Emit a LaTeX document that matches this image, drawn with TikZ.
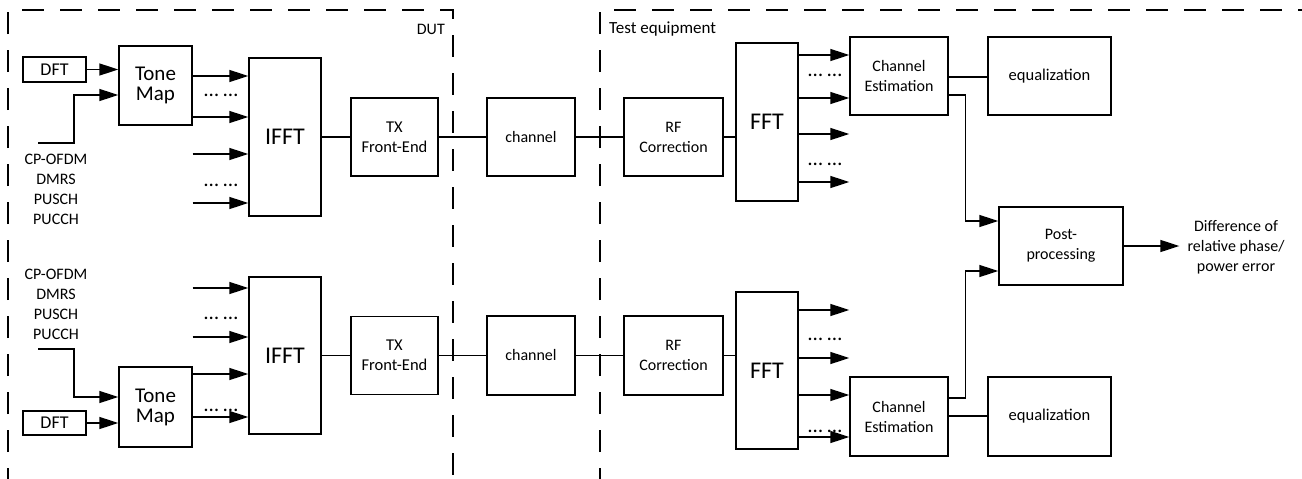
\documentclass[tikz,border=0pt]{standalone}
\usepackage{fontspec}
\setmainfont{Carlito}
\usetikzlibrary{arrows.meta,calc}
\newcommand{\fsz}[1]{\fontsize{#1}{20}\selectfont}
\begin{document}
\begin{tikzpicture}[x=1pt,y=-1pt,
  blk/.style={draw, line width=1.4pt, inner sep=0pt, align=center, font=\fsz{16}},
  arr/.style={line width=1.4pt, -{Triangle[length=19pt,width=12pt]}},
  ln/.style={line width=1.4pt},
  dbox/.style={line width=1.4pt, dash pattern=on 22pt off 16pt},
  txt/.style={inner sep=0pt, align=center, font=\fsz{16}},
  dts/.style={inner sep=0pt, font=\fsz{21}}]
\useasboundingbox (0,0) rectangle (1302,479);
\clip (0,0) rectangle (1302,479);
% dashed regions
\draw[dbox] (8,490) -- (8,10) -- (453,10) -- (453,490);
\draw[dbox] (600,490) -- (600,10) -- (1310,10);
\node[txt, font=\fsz{16}, anchor=east] (dut) at (445,29) {DUT};
\node[txt, font=\fsz{17}, anchor=west] (te) at (609,29) {Test equipment};
% upper chain
\node[blk, minimum width=63pt, minimum height=25pt, font=\fsz{18}] (dft1) at (54.5,69.5) {DFT};
\node[blk, minimum width=73pt, minimum height=79pt, font=\fsz{21}] (tone1) at (155.5,85.5) {Tone\\Map};
\node[blk, minimum width=72pt, minimum height=158pt, font=\fsz{24}] (ifft1) at (285,137) {IFFT};
\node[blk, minimum width=87pt, minimum height=78pt, font=\fsz{16.5}] (tx1) at (394.5,137) {TX\\Front-End};
\node[blk, minimum width=88pt, minimum height=78pt] (ch1) at (531,137) {channel};
\node[blk, minimum width=99pt, minimum height=78pt, font=\fsz{16}] (rf1) at (673.5,137) {RF\\Correction};
\node[blk, minimum width=62pt, minimum height=158pt, font=\fsz{24}] (fft1) at (767,122) {FFT};
\node[blk, minimum width=98pt, minimum height=78pt] (ce1) at (899,76) {Channel\\Estimation};
\node[blk, minimum width=123pt, minimum height=78pt, font=\fsz{16.5}] (eq1) at (1049.5,76) {equalization};
\node[blk, minimum width=124pt, minimum height=78pt] (post) at (1061,246) {Post-\\processing};
\node[txt] (diff) at (1236,247) {Difference of\\relative phase/\\power error};
% lower chain
\node[blk, minimum width=63pt, minimum height=24pt, font=\fsz{18}] (dft2) at (54.5,423) {DFT};
\node[blk, minimum width=73pt, minimum height=80pt, font=\fsz{21}] (tone2) at (155.5,407) {Tone\\Map};
\node[blk, minimum width=72pt, minimum height=157pt, font=\fsz{24}] (ifft2) at (285,355.5) {IFFT};
\node[blk, minimum width=87pt, minimum height=78pt, font=\fsz{16.5}] (tx2) at (394.5,355.5) {TX\\Front-End};
\node[blk, minimum width=88pt, minimum height=79pt] (ch2) at (531,355.5) {channel};
\node[blk, minimum width=99pt, minimum height=79pt, font=\fsz{16}] (rf2) at (673.5,355.5) {RF\\Correction};
\node[blk, minimum width=62pt, minimum height=157pt, font=\fsz{24}] (fft2) at (767,370.5) {FFT};
\node[blk, minimum width=98pt, minimum height=79pt] (ce2) at (899,416.5) {Channel\\Estimation};
\node[blk, minimum width=123pt, minimum height=79pt, font=\fsz{16.5}] (eq2) at (1049.5,416.5) {equalization};
% input labels
\node[txt] (cp1) at (56,189.5) {CP-OFDM\\DMRS\\PUSCH\\PUCCH};
\node[txt] (cp2) at (56,304.5) {CP-OFDM\\DMRS\\PUSCH\\PUCCH};
\coordinate (in1) at (38,143);
\coordinate (k1) at (74,95);
\coordinate (in2) at (38,349);
\coordinate (k2) at (74,397);
% upper connectors
\draw[arr] (dft1.east) -- (tone1.west |- dft1.east);
\draw[arr] (in1) -| (k1) -- (tone1.west |- k1);
\draw[arr] (tone1.east |- 0,76) -- (ifft1.west |- 0,76);
\draw[arr] (tone1.east |- 0,117) -- (ifft1.west |- 0,117);
\draw[arr] (tone1.east |- 0,154) -- (ifft1.west |- 0,154);
\draw[arr] (tone1.east |- 0,203) -- (ifft1.west |- 0,203);
\node[dts] (d1) at (221,95) {… …};
\node[dts] (d2) at (221,185) {… …};
\draw[ln] (ifft1.east) -- (tx1.west);
\draw[ln] (tx1.east) -- (ch1.west);
\draw[ln] (ch1.east) -- (rf1.west);
\draw[ln] (rf1.east) -- (rf1.east -| fft1.west);
\draw[arr] (fft1.east |- 0,55) -- (ce1.west |- 0,55);
\draw[arr] (fft1.east |- 0,98) -- (ce1.west |- 0,98);
\draw[arr] (fft1.east |- 0,134) -- (ce1.west |- 0,134);
\draw[arr] (fft1.east |- 0,182) -- (ce1.west |- 0,182);
\node[dts] (d3) at (825,75) {… …};
\node[dts] (d4) at (825,164) {… …};
\draw[ln] (ce1.east |- 0,77) -- (eq1.west |- 0,77);
\draw[arr] (ce1.east |- 0,95) -- ++(17,0) |- (post.west |- 0,221);
% lower connectors
\draw[arr] (dft2.east) -- (tone2.west |- dft2.east);
\draw[arr] (in2) -| (k2) -- (tone2.west |- k2);
\draw[arr] (tone2.east |- 0,288) -- (ifft2.west |- 0,288);
\draw[arr] (tone2.east |- 0,337) -- (ifft2.west |- 0,337);
\draw[arr] (tone2.east |- 0,374) -- (ifft2.west |- 0,374);
\draw[arr] (tone2.east |- 0,417) -- (ifft2.west |- 0,417);
\node[dts] (d5) at (221,318) {… …};
\node[dts] (d6) at (221,410) {… …};
\draw[ln] (ifft2.east) -- (tx2.west);
\draw[ln] (tx2.east) -- (ch2.west);
\draw[ln] (ch2.east) -- (rf2.west);
\draw[ln] (rf2.east) -- (rf2.east -| fft2.west);
\draw[arr] (fft2.east |- 0,310) -- (ce2.west |- 0,310);
\draw[arr] (fft2.east |- 0,358) -- (ce2.west |- 0,358);
\draw[arr] (fft2.east |- 0,395) -- (ce2.west |- 0,395);
\draw[arr] (fft2.east |- 0,437) -- (ce2.west |- 0,437);
\node[dts] (d7) at (825,339) {… …};
\node[dts] (d8) at (825,431) {… …};
\draw[ln] (ce2.east |- 0,416) -- (eq2.west |- 0,416);
\draw[arr] (ce2.east |- 0,398) -- ++(17,0) |- (post.west |- 0,271);
% output
\draw[arr] (post.east |- 0,246) -- ($(diff.west |- 0,246)+(-8,0)$);
\end{tikzpicture}
\end{document}
